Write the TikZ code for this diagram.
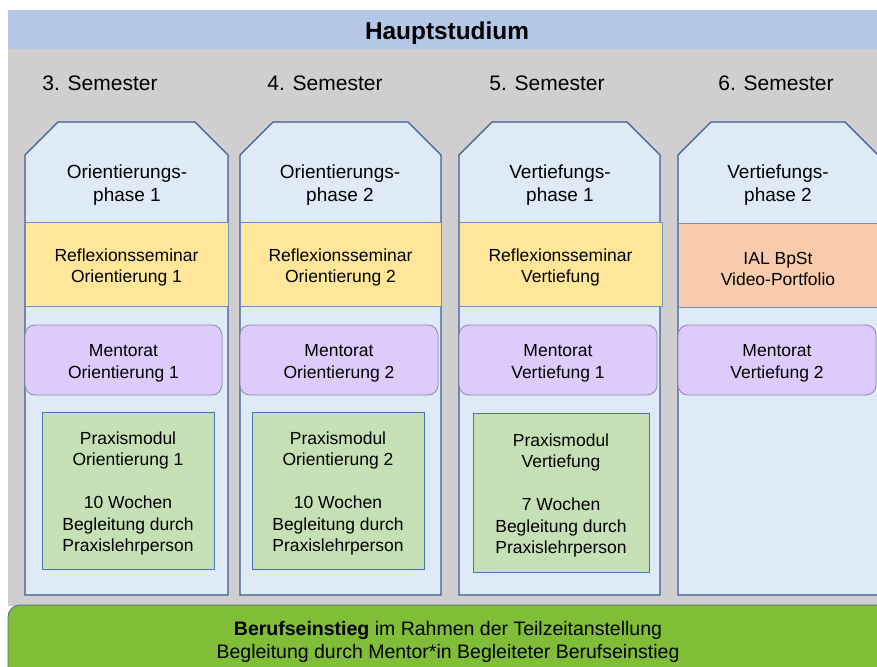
\documentclass[tikz,border=0pt]{standalone}
\usepackage{fontspec}
\setmainfont{Liberation Sans}
\definecolor{headblue}{HTML}{B4C7E7}
\definecolor{graybg}{HTML}{D0CECE}
\definecolor{colfill}{HTML}{DEEAF6}
\definecolor{colborder}{HTML}{3B5C96}
\definecolor{yellowfill}{HTML}{FFE699}
\definecolor{orangefill}{HTML}{F8CBAD}
\definecolor{purplefill}{HTML}{DCCBFB}
\definecolor{purpleborder}{HTML}{8E87A6}
\definecolor{greenfill}{HTML}{C5E0B4}
\definecolor{greenborder}{HTML}{4A70B5}
\definecolor{barfill}{HTML}{80BE38}
\definecolor{barborder}{HTML}{4F6E8F}
\definecolor{thinborder}{HTML}{6F8FC2}
\newcommand{\topstrut}[1]{\rule{0pt}{#1}}
\begin{document}
\begin{tikzpicture}[x=1pt,y=-1pt,
  colbox/.style={draw=colborder, line width=1.2pt, fill=colfill},
  bodyfont/.style={font=\fontsize{17.5}{21.5}\selectfont},
  semfont/.style={font=\fontsize{21}{25}\selectfont},
  phasefont/.style={font=\fontsize{19}{23}\selectfont},
  seminarbox/.style={bodyfont, draw=thinborder, line width=0.8pt, fill=yellowfill,
    minimum height=84pt, inner sep=0pt, align=center},
  ialbox/.style={seminarbox, fill=orangefill},
  mentorbox/.style={bodyfont, draw=purpleborder, line width=0.8pt, fill=purplefill,
    rounded corners=10pt, minimum height=70pt, inner sep=0pt, align=center},
  praxisbox/.style={bodyfont, draw=greenborder, line width=0.9pt, fill=greenfill,
    inner sep=0pt, align=center},
  plain/.style={inner sep=0pt, align=center}
]
\useasboundingbox (0,0) rectangle (877,666);
\clip (0,0) rectangle (877,666);
\fill[white] (0,0) rectangle (877,666);
\fill[graybg] (8,49) rectangle (877,606);
\fill[headblue] (8,10) rectangle (877,49);
\node[plain, font=\bfseries\fontsize{24.4}{28}\selectfont] (title) at (447,33) {Hauptstudium};

% semester labels
\node[plain, semfont] (sem3) at (100,83) {3. Semester};
\node[plain, semfont] (sem4) at (325,83) {4. Semester};
\node[plain, semfont] (sem5) at (547,83) {5. Semester};
\node[plain, semfont] (sem6) at (776,83) {6. Semester};

% column outlines
\foreach \x/\w in {25/203, 240/201, 459/201, 678/200}{
  \draw[colbox] (\x,595) -- (\x,155) -- (\x+33,122) -- (\x+\w-33,122)
     -- (\x+\w,155) -- (\x+\w,595) -- cycle;
}

% phase titles
\node[plain, phasefont] (ph1) at (127,185) {Orientierungs-\\phase 1};
\node[plain, phasefont] (ph2) at (340,185) {Orientierungs-\\phase 2};
\node[plain, phasefont] (ph3) at (560,185) {Vertiefungs-\\phase 1};
\node[plain, phasefont] (ph4) at (778,185) {Vertiefungs-\\phase 2};

% seminar boxes
\node[seminarbox, minimum width=203pt] (sem1box) at (126.5,264) {\topstrut{20pt}Reflexionsseminar\\Orientierung 1};
\node[seminarbox, minimum width=201pt] (sem2box) at (340.5,264) {\topstrut{20pt}Reflexionsseminar\\Orientierung 2};
\node[seminarbox, minimum width=203pt] (sem3box) at (560.5,264) {\topstrut{20pt}Reflexionsseminar\\Vertiefung};
\node[ialbox, minimum width=200pt] (ialbox) at (778,265) {\topstrut{20pt}IAL BpSt\\Video-Portfolio};

% mentorat boxes
\node[mentorbox, minimum width=197pt] (ment1) at (123.5,360) {\topstrut{18.5pt}Mentorat\\Orientierung 1};
\node[mentorbox, minimum width=198pt] (ment2) at (339,360) {\topstrut{18.5pt}Mentorat\\Orientierung 2};
\node[mentorbox, minimum width=198pt] (ment3) at (558,360) {\topstrut{18.5pt}Mentorat\\Vertiefung 1};
\node[mentorbox, minimum width=198pt] (ment4) at (777,360) {\topstrut{18.5pt}Mentorat\\Vertiefung 2};

% praxis boxes
\node[praxisbox, minimum width=172pt, minimum height=157pt] (prax1) at (128,490.5)
  {\topstrut{18.5pt}Praxismodul\\Orientierung 1\\[21.5pt]10 Wochen\\Begleitung durch\\Praxislehrperson};
\node[praxisbox, minimum width=172pt, minimum height=157pt] (prax2) at (338,490.5)
  {\topstrut{18.5pt}Praxismodul\\Orientierung 2\\[21.5pt]10 Wochen\\Begleitung durch\\Praxislehrperson};
\node[praxisbox, minimum width=176pt, minimum height=159pt] (prax3) at (561,492.5)
  {\topstrut{18.5pt}Praxismodul\\Vertiefung\\[21.5pt]7 Wochen\\Begleitung durch\\Praxislehrperson};

% bottom bar
\draw[fill=barfill, draw=barborder, line width=0.9pt, rounded corners=12pt]
  (8,605) rectangle (895,690);
\node[plain, font=\fontsize{19.5}{23}\selectfont] (bar) at (448,642)
  {\textbf{Berufseinstieg} im Rahmen der Teilzeitanstellung\\Begleitung durch Mentor*in Begleiteter Berufseinstieg};
\end{tikzpicture}
\end{document}
